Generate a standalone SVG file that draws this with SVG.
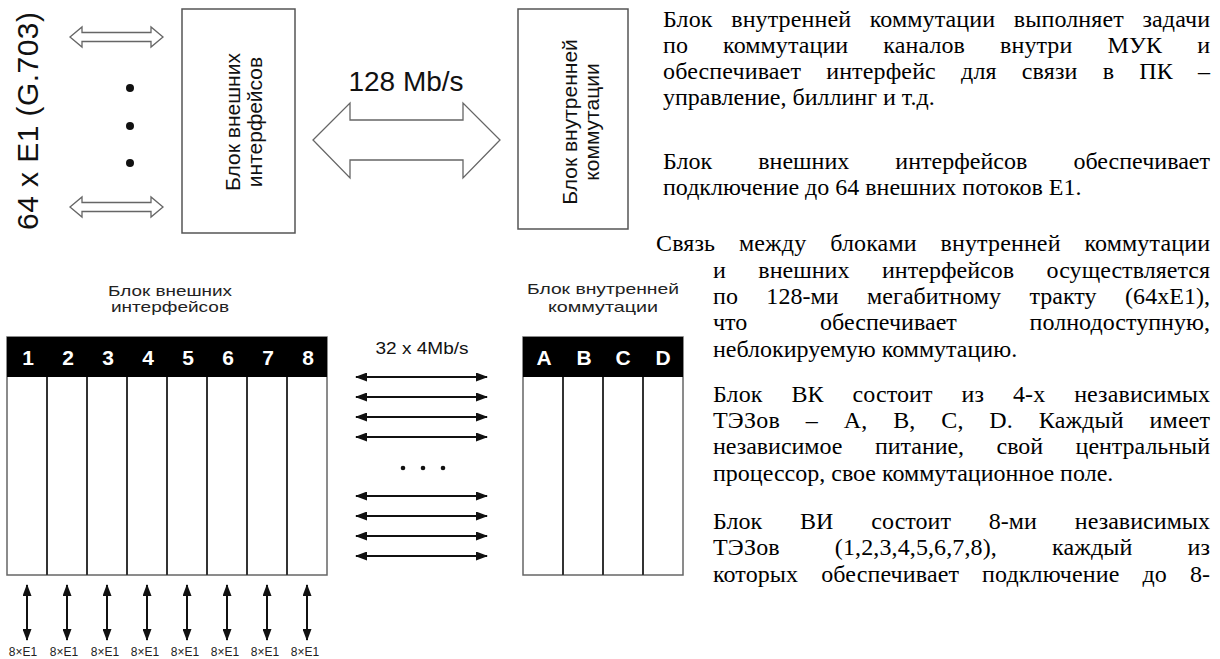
<svg xmlns="http://www.w3.org/2000/svg" width="1220" height="659" viewBox="0 0 1220 659">
<style>
.sans{font-family:"Liberation Sans",Arial,sans-serif;fill:#111}
.serif{font-family:"Liberation Serif","Times New Roman",serif;font-size:24px;fill:#000}
.box{fill:#fff;stroke:#555;stroke-width:1.5}
.hollow{fill:#fff;stroke:#666;stroke-width:1.3}
.rack{fill:#fff;stroke:#666;stroke-width:1.5}
.sep{stroke:#333;stroke-width:2}
.hdr{font-family:"Liberation Sans",Arial,sans-serif;font-weight:bold;font-size:21px;fill:#fff;text-anchor:middle}
.lbl{font-family:"Liberation Sans",Arial,sans-serif;font-size:15px;fill:#222;text-anchor:middle}
.ex{font-family:"Liberation Sans",Arial,sans-serif;font-size:12px;fill:#222;text-anchor:middle}
.arr{stroke:#111;stroke-width:2;fill:none;marker-start:url(#ah);marker-end:url(#ah)}
</style>
<defs>
<marker id="ah" markerUnits="userSpaceOnUse" markerWidth="12" markerHeight="9" refX="11" refY="4.5" orient="auto-start-reverse">
<path d="M0,0 L12,4.5 L0,9 z" fill="#111"/>
</marker>
</defs>
<rect width="1220" height="659" fill="#fff"/>

<g id="label-64xE1">
<text class="sans" font-size="30" text-anchor="middle" transform="translate(38,121) rotate(-90)" textLength="218" lengthAdjust="spacing">64 x E1 (G.703)</text>
<circle cx="130" cy="88" r="4" fill="#111"/>
<circle cx="130" cy="126" r="4" fill="#111"/>
<circle cx="130" cy="163" r="4" fill="#111"/>
</g>

<g id="block-external">
<rect class="box" x="182" y="9" width="113" height="224"/>
<text class="sans" font-size="21" text-anchor="middle" transform="translate(240,122) rotate(-90)">Блок внешних</text>
<text class="sans" font-size="21" text-anchor="middle" transform="translate(262,122) rotate(-90)">интерфейсов</text>
</g>

<g id="block-internal">
<rect class="box" x="518" y="9" width="110" height="220"/>
<text class="sans" font-size="21" text-anchor="middle" transform="translate(577,122) rotate(-90)">Блок внутренней</text>
<text class="sans" font-size="21" text-anchor="middle" transform="translate(599,122) rotate(-90)">коммутации</text>
</g>

<g id="rack-external">
<text class="lbl" x="170" y="296" textLength="124" lengthAdjust="spacingAndGlyphs">Блок внешних</text>
<text class="lbl" x="170" y="312" textLength="118" lengthAdjust="spacingAndGlyphs">интерфейсов</text>
<rect class="rack" x="7" y="337" width="320" height="238"/>
<rect x="7" y="337" width="320" height="40" fill="#000"/>
<line class="sep" x1="47" y1="377" x2="47" y2="575"/>
<line class="sep" x1="87" y1="377" x2="87" y2="575"/>
<line class="sep" x1="127" y1="377" x2="127" y2="575"/>
<line class="sep" x1="167" y1="377" x2="167" y2="575"/>
<line class="sep" x1="207" y1="377" x2="207" y2="575"/>
<line class="sep" x1="247" y1="377" x2="247" y2="575"/>
<line class="sep" x1="287" y1="377" x2="287" y2="575"/>
<text class="hdr" x="28" y="365">1</text>
<text class="hdr" x="68" y="365">2</text>
<text class="hdr" x="108" y="365">3</text>
<text class="hdr" x="148" y="365">4</text>
<text class="hdr" x="188" y="365">5</text>
<text class="hdr" x="228" y="365">6</text>
<text class="hdr" x="268" y="365">7</text>
<text class="hdr" x="308" y="365">8</text>
<text class="ex" x="23" y="656">8×E1</text>
<text class="ex" x="64" y="656">8×E1</text>
<text class="ex" x="105" y="656">8×E1</text>
<text class="ex" x="145" y="656">8×E1</text>
<text class="ex" x="185" y="656">8×E1</text>
<text class="ex" x="225" y="656">8×E1</text>
<text class="ex" x="265" y="656">8×E1</text>
<text class="ex" x="305" y="656">8×E1</text>
</g>

<g id="rack-internal">
<text class="lbl" x="603" y="294" textLength="152" lengthAdjust="spacingAndGlyphs">Блок внутренней</text>
<text class="lbl" x="603" y="312" textLength="110" lengthAdjust="spacingAndGlyphs">коммутации</text>
<rect class="rack" x="523" y="337" width="160" height="238"/>
<rect x="523" y="337" width="160" height="40" fill="#000"/>
<line class="sep" x1="563" y1="377" x2="563" y2="575"/>
<line class="sep" x1="603" y1="377" x2="603" y2="575"/>
<line class="sep" x1="643" y1="377" x2="643" y2="575"/>
<text class="hdr" x="544" y="365">A</text>
<text class="hdr" x="584" y="365">B</text>
<text class="hdr" x="623" y="365">C</text>
<text class="hdr" x="663" y="365">D</text>
</g>

<g id="connectors">
<polygon class="hollow" points="70,37 82,27 82,32.5 151,32.5 151,27 163,37 151,47 151,41.5 82,41.5 82,47"/>
<polygon class="hollow" points="70,207 82,197 82,202.5 151,202.5 151,197 163,207 151,217 151,211.5 82,211.5 82,217"/>
<polygon class="hollow" points="313,140 350,103 350,120 463,120 463,103 500,140 463,178 463,160 350,160 350,178"/>
<text class="sans" font-size="28" x="406" y="91" text-anchor="middle">128 Mb/s</text>
<text class="sans" font-size="16" x="422" y="354" text-anchor="middle" textLength="93" lengthAdjust="spacingAndGlyphs">32 x 4Mb/s</text>
<line class="arr" x1="356" y1="377" x2="487" y2="377"/>
<line class="arr" x1="356" y1="397" x2="487" y2="397"/>
<line class="arr" x1="356" y1="417" x2="487" y2="417"/>
<line class="arr" x1="356" y1="437" x2="487" y2="437"/>
<circle cx="403" cy="468" r="2.3" fill="#111"/>
<circle cx="423" cy="468" r="2.3" fill="#111"/>
<circle cx="443" cy="468" r="2.3" fill="#111"/>
<line class="arr" x1="356" y1="496" x2="487" y2="496"/>
<line class="arr" x1="356" y1="516" x2="487" y2="516"/>
<line class="arr" x1="356" y1="536" x2="487" y2="536"/>
<line class="arr" x1="356" y1="556" x2="487" y2="556"/>
<line class="arr" x1="27" y1="585" x2="27" y2="640"/>
<line class="arr" x1="67" y1="585" x2="67" y2="640"/>
<line class="arr" x1="107" y1="585" x2="107" y2="640"/>
<line class="arr" x1="147" y1="585" x2="147" y2="640"/>
<line class="arr" x1="187" y1="585" x2="187" y2="640"/>
<line class="arr" x1="227" y1="585" x2="227" y2="640"/>
<line class="arr" x1="267" y1="585" x2="267" y2="640"/>
<line class="arr" x1="307" y1="585" x2="307" y2="640"/>
</g>

<g id="description" class="serif">
<text x="663" y="27" word-spacing="12.5" textLength="547" lengthAdjust="spacing">Блок внутренней коммутации выполняет задачи</text>
<text x="663" y="53" word-spacing="29" textLength="547" lengthAdjust="spacing">по коммутации каналов внутри МУК и</text>
<text x="663" y="79" word-spacing="19" textLength="547" lengthAdjust="spacing">обеспечивает интерфейс для связи в ПК –</text>
<text x="663" y="105">управление, биллинг и т.д.</text>
<text x="663" y="169" word-spacing="40" textLength="547" lengthAdjust="spacing">Блок внешних интерфейсов обеспечивает</text>
<text x="663" y="195">подключение до 64 внешних потоков E1.</text>
<text x="656" y="251" word-spacing="17.7" textLength="554" lengthAdjust="spacing">Связь между блоками внутренней коммутации</text>
<text x="713" y="278" word-spacing="26.4" textLength="497" lengthAdjust="spacing">и внешних интерфейсов осуществляется</text>
<text x="713" y="304" word-spacing="22.4" textLength="497" lengthAdjust="spacing">по 128-ми мегабитному тракту (64xE1),</text>
<text x="713" y="330" word-spacing="66.6" textLength="497" lengthAdjust="spacing">что обеспечивает полнодоступную,</text>
<text x="713" y="357">неблокируемую коммутацию.</text>
<text x="713" y="402" word-spacing="22.8" textLength="497" lengthAdjust="spacing">Блок ВК состоит из 4-х независимых</text>
<text x="713" y="428" word-spacing="19.7" textLength="497" lengthAdjust="spacing">ТЭЗов – A, B, C, D. Каждый имеет</text>
<text x="713" y="454" word-spacing="26.5" textLength="497" lengthAdjust="spacing">независимое питание, свой центральный</text>
<text x="713" y="481">процессор, свое коммутационное поле.</text>
<text x="713" y="529" word-spacing="31.8" textLength="497" lengthAdjust="spacing">Блок ВИ состоит 8-ми независимых</text>
<text x="713" y="555" word-spacing="49" textLength="497" lengthAdjust="spacing">ТЭЗов (1,2,3,4,5,6,7,8), каждый из</text>
<text x="713" y="582" word-spacing="16.9" textLength="497" lengthAdjust="spacing">которых обеспечивает подключение до 8-</text>
</g>
</svg>
